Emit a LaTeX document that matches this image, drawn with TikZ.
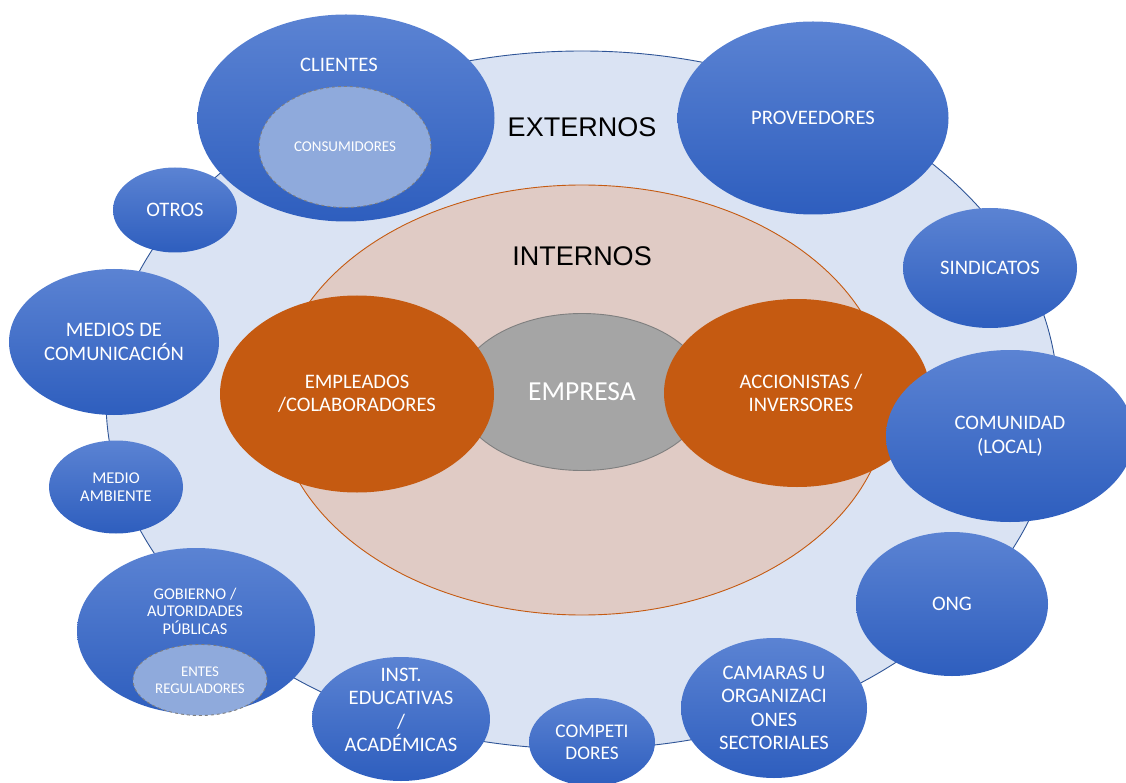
\documentclass[tikz,border=0pt]{standalone}
\usepackage{fontspec}
\setmainfont{Carlito}
\newfontfamily\headfont{Liberation Sans}
\usepackage{tikz}
\usetikzlibrary{positioning, shapes.geometric}
\definecolor{extFill}{HTML}{DAE3F3}
\definecolor{extLine}{HTML}{2F5597}
\definecolor{intFill}{HTML}{E0CBC5}
\definecolor{intLine}{HTML}{C55A11}
\definecolor{empOrange}{HTML}{C55A11}
\definecolor{coreGray}{HTML}{A5A5A5}
\definecolor{coreLine}{HTML}{7F7F7F}
\definecolor{blueTop}{HTML}{5B83D3}
\definecolor{blueBot}{HTML}{2E5EBE}
\definecolor{subBlue}{HTML}{8FAADC}

\begin{document}
\begin{tikzpicture}[
  x=1pt, y=-1pt,
  every node/.style={font=\fontsize{20.6}{23.5}\selectfont, align=center},
  ring/.style 2 args={
    ellipse, inner sep=0pt,
    minimum width=#1, minimum height=#2
  },
  extblock/.style 2 args={
    ring={#1}{#2}, draw=none,
    top color=blueTop, bottom color=blueBot, text=white
  },
  subblock/.style 2 args={
    ring={#1}{#2}, fill=subBlue,
    draw=coreLine, dashed, line width=0.9pt, text=white,
    font=\fontsize{15}{17.5}\selectfont
  },
  inblock/.style 2 args={
    ring={#1}{#2}, fill=empOrange, draw=none, text=white,
    font=\fontsize{20.6}{22.5}\selectfont
  },
  headlabel/.style={font=\headfont\fontsize{27}{30}\selectfont, text=black},
]
\clip (0,0) rectangle (1126,783);

% Stakeholder rings
\node[ring={952}{698}, fill=extFill, draw=extLine, line width=0.9pt] (ext) at (582,400) {};
\node[ring={612}{430}, fill=intFill, draw=intLine, line width=0.9pt] (int) at (582,400) {};
\node[headlabel] (extT) at (582,127) {EXTERNOS};
\node[headlabel] (intT) at (582,256) {INTERNOS};

% Core and internal groups
\node[ring={250}{157}, fill=coreGray, draw=coreLine, line width=0.9pt, text=white,
  font=\fontsize{27.5}{30}\selectfont] (emp) at (582,392) {EMPRESA};
\node[inblock={274}{197}] (empl) at (357,394) {EMPLEADOS\\/COLABORADORES};
\node[inblock={266}{188}] (acc) at (797,393) {};
\node[text=white, font=\fontsize{20.6}{22.5}\selectfont] (accT) at (801,393) {ACCIONISTAS /\\INVERSORES};

% External groups
\node[extblock={297}{207}] (cli) at (346,118) {};
\node[text=white] (cliT) at (339,65) {CLIENTES};
\node[subblock={172}{121}] (cons) at (345,147) {CONSUMIDORES};
\node[extblock={124}{85}] (otr) at (175,210) {OTROS};
\node[extblock={271}{193}] (prov) at (813,118) {PROVEEDORES};
\node[extblock={174}{120}] (sind) at (990,268) {SINDICATOS};
\node[extblock={210}{146}] (med) at (114,342) {MEDIOS DE\\COMUNICACIÓN};
\node[extblock={134}{93}, font=\fontsize{16.5}{18}\selectfont] (amb) at (116,487) {MEDIO\\AMBIENTE};
\node[extblock={248}{172}] (com) at (1010,436) {COMUNIDAD\\(LOCAL)};
\node[extblock={192}{144}] (ong) at (952,604) {ONG};
\node[extblock={238}{166}] (gob) at (196,631) {};
\node[text=white, font=\fontsize{16.4}{17.5}\selectfont] (gobT) at (195,611) {GOBIERNO /\\AUTORIDADES\\PÚBLICAS};
\node[subblock={134}{71}, font=\fontsize{14.8}{17}\selectfont] (ent) at (200,680) {ENTES\\REGULADORES};
\node[extblock={178}{124}] (edu) at (401,719) {};
\node[text=white] (eduT) at (401,710) {INST.\\EDUCATIVAS\\/\\ACADÉMICAS};
\node[extblock={126}{88}, font=\fontsize{19.3}{22}\selectfont] (compe) at (592,742) {COMPETI\\DORES};
\node[extblock={186}{140}] (cam) at (774,708) {CAMARAS U\\ORGANIZACI\\ONES\\SECTORIALES};

\end{tikzpicture}
\end{document}
